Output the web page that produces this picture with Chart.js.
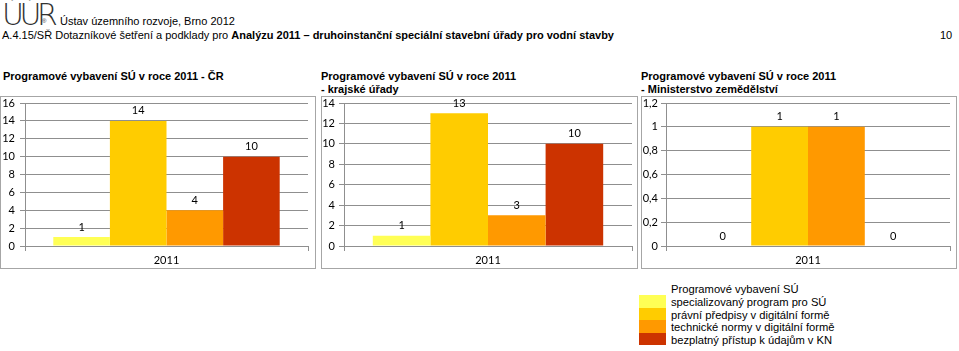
<!DOCTYPE html>
<html>
<head>
<meta charset="utf-8">
<script src="https://cdn.jsdelivr.net/npm/chart.js@4/dist/chart.umd.min.js"></script>
<style>
  html,body{margin:0;padding:0;background:#fff;}
  body{width:959px;height:351px;position:relative;overflow:hidden;font-family:'Liberation Sans',Arial,sans-serif;color:#000;}
  .abs{position:absolute;white-space:nowrap;}
  .box{position:absolute;border:1px solid #a6a6a6;box-sizing:border-box;}
  .box canvas{position:absolute;left:0;top:0;}
  .ttl{position:absolute;font-weight:bold;font-size:11px;line-height:13px;white-space:nowrap;}
  .leg{position:absolute;font-size:11.2px;line-height:12.5px;white-space:nowrap;}
  .sw{position:absolute;width:27px;}
</style>
</head>
<body>
<div class="abs" style="left:2px;top:0px;font-family:'DejaVu Sans',sans-serif;font-weight:200;font-size:30px;line-height:30px;letter-spacing:-4.5px;color:#333;">ÚÚR</div>
<div class="abs" style="left:42px;top:18px;font-size:6px;color:#333;">®</div>
<div class="abs" style="left:60px;top:15px;font-size:11px;">Ústav územního rozvoje, Brno 2012</div>
<div class="abs" style="left:2px;top:29px;font-size:11px;">A.4.15/SŘ Dotazníkové šetření a podklady pro <b>Analýzu 2011 – druhoinstanční speciální stavební úřady pro vodní stavby</b></div>
<div class="abs" style="left:940px;top:29px;font-size:11px;">10</div>

<div class="ttl" style="left:3px;top:70px;">Programové vybavení SÚ v roce 2011 - ČR</div>
<div class="ttl" style="left:321px;top:70px;">Programové vybavení SÚ v roce 2011<br>- krajské úřady</div>
<div class="ttl" style="left:641px;top:70px;">Programové vybavení SÚ v roce 2011<br>- Ministerstvo zemědělství</div>

<div class="box" style="left:0px;top:96px;width:316px;height:173px;"><canvas id="c1"></canvas></div>
<div class="box" style="left:321px;top:96px;width:317px;height:173px;"><canvas id="c2"></canvas></div>
<div class="box" style="left:641px;top:96px;width:316px;height:173px;"><canvas id="c3"></canvas></div>

<div id="legend"></div>

<script>
// ---- data ----
const categories = ['2011'];
const legendTitle = 'Programové vybavení SÚ';
const seriesNames = [
  'specializovaný program pro SÚ',
  'právní předpisy v digitální formě',
  'technické normy v digitální formě',
  'bezplatný přístup k údajům v KN'
];
const seriesColors = ['#FFFF55', '#FFCC00', '#FF9900', '#CC3300'];
const valuesCR  = [1, 14, 4, 10];
const valuesKU  = [1, 13, 3, 10];
const valuesMZe = [0, 1, 1, 0];
const yMaxCR = 16,  yStepCR = 2;
const yMaxKU = 14,  yStepKU = 2;
const yMaxMZe = 1.2, yStepMZe = 0.2;

// ---- legend (HTML) ----
(function(){
  const L = document.getElementById('legend');
  const t = document.createElement('div');
  t.className = 'leg'; t.style.left = '671px'; t.style.top = '283px';
  t.textContent = legendTitle; L.appendChild(t);
  seriesNames.forEach((n, i) => {
    const sw = document.createElement('div');
    sw.className = 'sw';
    sw.style.left = '639px'; sw.style.top = (295 + i * 12.5) + 'px';
    sw.style.height = '12.5px'; sw.style.background = seriesColors[i];
    L.appendChild(sw);
    const d = document.createElement('div');
    d.className = 'leg'; d.style.left = '671px'; d.style.top = (296 + i * 12.5) + 'px';
    d.textContent = n; L.appendChild(d);
  });
})();

const tickFont = {family: 'Lato, "Open Sans", sans-serif', size: 11};
const gridColor = '#8f8f8f';

const valueLabels = {
  id: 'valueLabels',
  afterDatasetsDraw(chart) {
    const ctx = chart.ctx;
    ctx.save();
    ctx.font = '11px Lato, "Open Sans", sans-serif';
    ctx.fillStyle = '#000';
    ctx.textAlign = 'center';
    ctx.textBaseline = 'middle';
    chart.data.datasets.forEach((ds, di) => {
      const meta = chart.getDatasetMeta(di);
      meta.data.forEach((el, i) => {
        const v = ds.data[i];
        ctx.fillText(String(v).replace('.', ','), el.x, el.y - 10);
      });
    });
    ctx.restore();
  }
};

function build(id, values, yMax, yStep, area, labelPad) {
  const cv = document.getElementById(id);
  const W = area.w, H = area.h;
  cv.width = W; cv.height = H;
  cv.style.width = W + 'px'; cv.style.height = H + 'px';
  return new Chart(cv, {
    type: 'bar',
    data: {
      labels: categories,
      datasets: seriesNames.map((n, i) => ({
        label: n,
        data: [values[i]],
        backgroundColor: seriesColors[i],
        borderWidth: 0
      }))
    },
    options: {
      responsive: false,
      animation: false,
      devicePixelRatio: 1,
      layout: {padding: {top: area.top, right: W - area.right, left: 0, bottom: 0}},
      plugins: {legend: {display: false}, tooltip: {enabled: false}},
      datasets: {bar: {categoryPercentage: 0.8, barPercentage: 1.0}},
      scales: {
        x: {
          grid: {display: true, drawOnChartArea: false, tickLength: 5, color: gridColor, offset: true},
          border: {display: true, color: gridColor},
          ticks: {font: tickFont, color: '#000', padding: 3},
          afterFit(s) { s.height = H - area.bottom; s.paddingLeft = 0; s.paddingRight = 0; }
        },
        y: {
          min: 0, max: yMax,
          grid: {color: gridColor, tickLength: 5},
          border: {display: true, color: gridColor},
          ticks: {
            stepSize: yStep, font: tickFont, color: '#000', padding: labelPad,
            callback: v => String(Math.round(v * 10) / 10).replace('.', ',')
          },
          afterFit(s) { s.width = area.left; s.paddingTop = 0; s.paddingBottom = 0; }
        }
      }
    },
    plugins: [valueLabels]
  });
}

build('c1', valuesCR,  yMaxCR,  yStepCR,  {w: 314, h: 171, left: 24, right: 307, top: 6, bottom: 149}, 5);
build('c2', valuesKU,  yMaxKU,  yStepKU,  {w: 315, h: 171, left: 22, right: 310, top: 6, bottom: 149}, 4);
build('c3', valuesMZe, yMaxMZe, yStepMZe, {w: 314, h: 171, left: 24, right: 308, top: 6, bottom: 149}, 3);
</script>
</body>
</html>
